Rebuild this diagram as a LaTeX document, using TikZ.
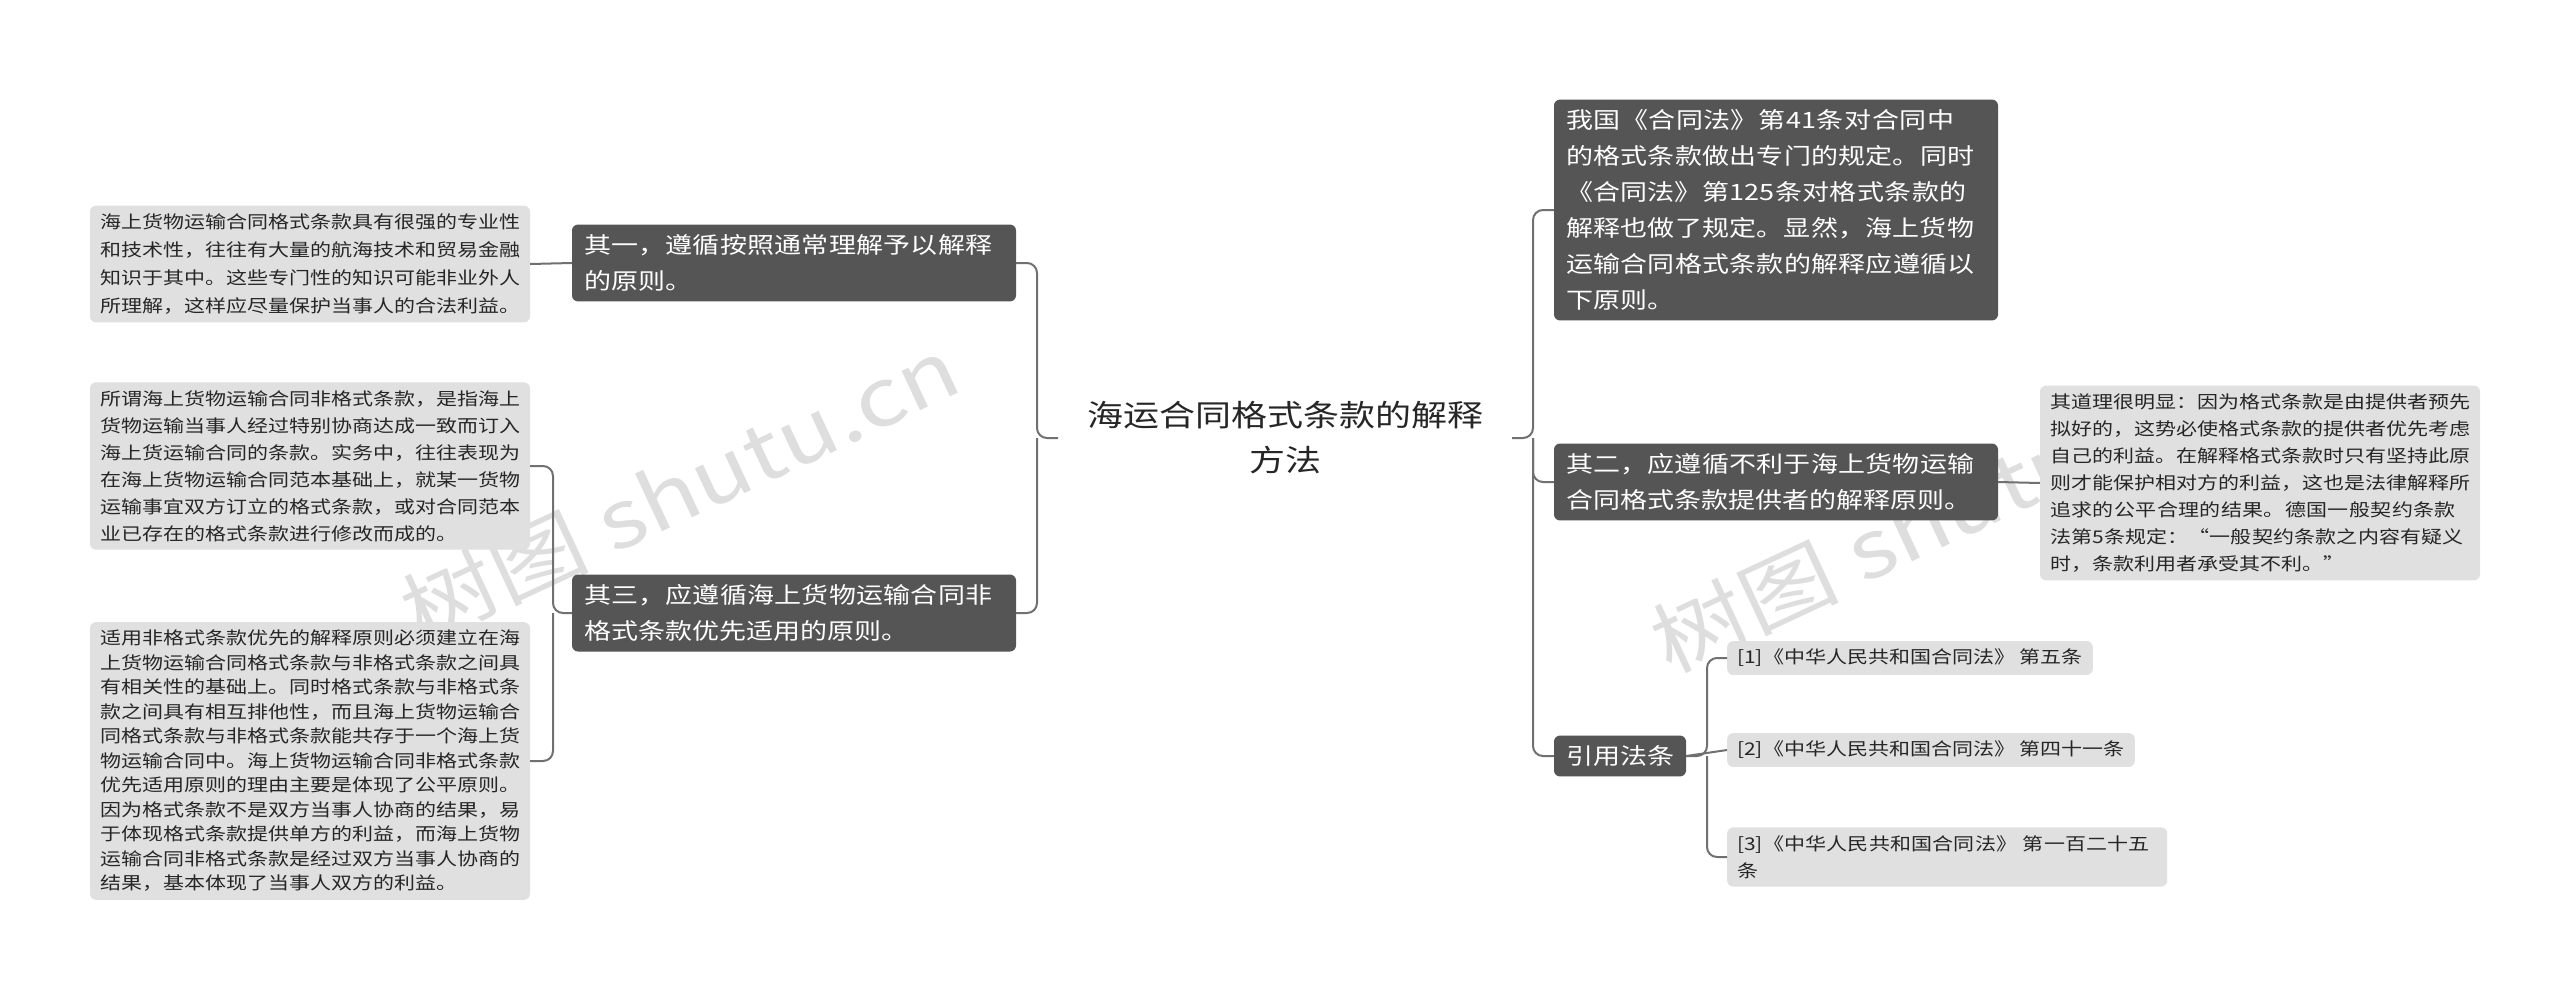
\documentclass[tikz,border=0pt]{standalone}
\usepackage{fontspec}
\setmainfont[FakeStretch=1.2]{Noto Sans CJK SC}
\XeTeXlinebreaklocale "zh"
\XeTeXlinebreakskip=0pt plus 1pt
\begin{document}
\begin{tikzpicture}[x=1pt,y=-1pt,
  dark/.style={fill=darkbox,text=white,rounded corners=6pt,align=left,font=\fontsize{22.5}{36}\selectfont,inner xsep=12pt,inner ysep=10pt},
  leaf/.style={fill=leafbox,text=black!85,rounded corners=6pt,align=left,font=\fontsize{17.5}{27}\selectfont,inner xsep=10pt,inner ysep=8pt},
  conn/.style={draw=linec,line width=2pt,rounded corners=10pt}]
\definecolor{darkbox}{HTML}{555555}
\definecolor{leafbox}{HTML}{E0E0E0}
\definecolor{linec}{HTML}{707070}
\useasboundingbox[fill=white] (0,0) rectangle (2560,1007);
% watermarks
\node[text=black!13,rotate=25,font=\fontsize{80}{80}\selectfont] (w1) at (680,490) {树图 shutu.cn};
\node[text=black!13,rotate=25,font=\fontsize{80}{80}\selectfont] (w2) at (1930,520) {树图 shutu.cn};
% center
\node[align=center,font=\fontsize{30}{45}\selectfont,text=black!85] (c) at (1285,438) {海运合同格式条款的解释\\方法};
% left
\node[dark,text width=420pt] (a1) at (794,263) {其一，遵循按照通常理解予以解释的原则。};
\node[dark,text width=420pt] (a3) at (794,613) {其三，应遵循海上货物运输合同非格式条款优先适用的原则。};
\node[leaf,text width=420pt,font=\fontsize{17.5}{28}\selectfont] (l1) at (310,264) {海上货物运输合同格式条款具有很强的专业性和技术性，往往有大量的航海技术和贸易金融知识于其中。这些专门性的知识可能非业外人所理解，这样应尽量保护当事人的合法利益。};
\node[leaf,text width=420pt] (l2) at (310,466) {所谓海上货物运输合同非格式条款，是指海上货物运输当事人经过特别协商达成一致而订入海上货运输合同的条款。实务中，往往表现为在海上货物运输合同范本基础上，就某一货物运输事宜双方订立的格式条款，或对合同范本业已存在的格式条款进行修改而成的。};
\node[leaf,text width=420pt,font=\fontsize{17.5}{24.5}\selectfont] (l3) at (310,761) {适用非格式条款优先的解释原则必须建立在海上货物运输合同格式条款与非格式条款之间具有相关性的基础上。同时格式条款与非格式条款之间具有相互排他性，而且海上货物运输合同格式条款与非格式条款能共存于一个海上货物运输合同中。海上货物运输合同非格式条款优先适用原则的理由主要是体现了公平原则。因为格式条款不是双方当事人协商的结果，易于体现格式条款提供单方的利益，而海上货物运输合同非格式条款是经过双方当事人协商的结果，基本体现了当事人双方的利益。};
% right
\node[dark,text width=420pt] (b1) at (1776,210) {我国《合同法》第41条对合同中的格式条款做出专门的规定。同时《合同法》第125条对格式条款的解释也做了规定。显然，海上货物运输合同格式条款的解释应遵循以下原则。};
\node[dark,text width=420pt] (b2) at (1776,482) {其二，应遵循不利于海上货物运输合同格式条款提供者的解释原则。};
\node[dark] (b3) at (1620,756) {引用法条};
\node[leaf,text width=420pt] (r1) at (2260,483) {其道理很明显：因为格式条款是由提供者预先拟好的，这势必使格式条款的提供者优先考虑自己的利益。在解释格式条款时只有坚持此原则才能保护相对方的利益，这也是法律解释所追求的公平合理的结果。德国一般契约条款法第5条规定：“一般契约条款之内容有疑义时，条款利用者承受其不利。”};
\node[leaf,anchor=west] (f1) at (1727,658) {[1]《中华人民共和国合同法》 第五条};
\node[leaf,anchor=west] (f2) at (1727,750) {[2]《中华人民共和国合同法》 第四十一条};
\node[leaf,anchor=west,text width=420pt] (f3) at (1727,857) {[3]《中华人民共和国合同法》 第一百二十五条};
% connectors
\coordinate (cl) at (1058,438);
\coordinate (cr) at (1512,438);
\draw[conn] (cl) -- (1037,438) |- (a1.east);
\draw[conn] (1037,438) |- (a3.east);
\draw[conn] (a1.west) -- (l1.east);
\draw[conn] (a3.west) -- (553,613) |- (l2.east);
\draw[conn] (553,613) |- (l3.east);
\draw[conn] (cr) -- (1533,438) |- (b1.west);
\draw[conn] (1533,438) |- (b2.west);
\draw[conn] (1533,438) |- (b3.west);
\draw[conn] (b2.east) -- (r1.west);
\draw[conn] (b3.east) -- (1707,756) |- (f1.west);
\draw[conn] (1707,756) |- (f3.west);
\draw[conn] (b3.east) -- (f2.west);
\end{tikzpicture}
\end{document}
